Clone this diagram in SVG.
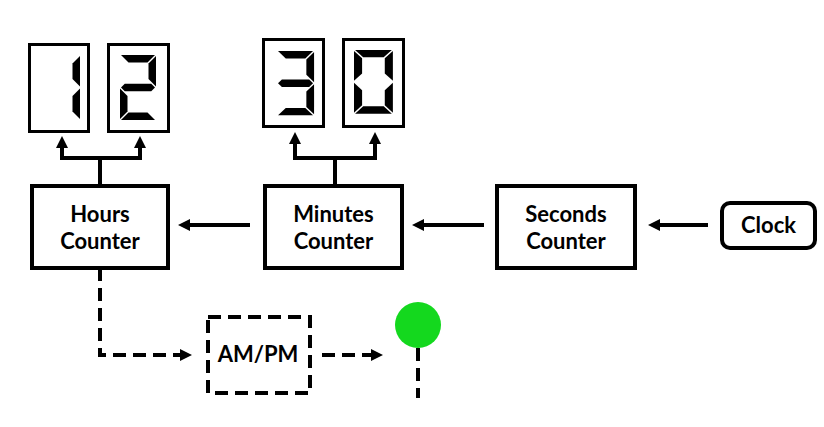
<svg xmlns="http://www.w3.org/2000/svg" width="824" height="427" viewBox="0 0 824 427">
<defs>
<style>
.box{fill:#fff;stroke:#000;stroke-width:4}
.dbox{fill:#fff;stroke:#000;stroke-width:3}
.seg{fill:#000}
.ln{fill:none;stroke:#000;stroke-width:4}
.dash{fill:none;stroke:#000;stroke-width:4;stroke-dasharray:13 7}
.lbl{font-family:Lato,"Open Sans","DejaVu Sans",sans-serif;font-weight:bold;font-size:22px;fill:#000;text-anchor:middle}
</style>
<marker id="ah" viewBox="0 0 12 12" refX="2" refY="6" markerWidth="12" markerHeight="12" markerUnits="userSpaceOnUse" orient="auto">
<path d="M0,0 L12,6 L0,12 z" fill="#000"/>
</marker>
<polygon id="sa" points="1,0 35,0 27.5,7.5 8.5,7.5"/>
<polygon id="sd" points="1,65 35,65 27.5,57.5 8.5,57.5"/>
<polygon id="sg" points="1,32.5 4.75,28.75 31.25,28.75 35,32.5 31.25,36.25 4.75,36.25"/>
<polygon id="sb" points="36,1 36,31.5 28.5,24 28.5,8.5"/>
<polygon id="sc" points="36,33.5 36,64 28.5,56.5 28.5,41"/>
<polygon id="se" points="0,33.5 0,64 7.5,56.5 7.5,41"/>
<polygon id="sf" points="0,1 0,31.5 7.5,24 7.5,8.5"/>
</defs>

<g id="digit-1">
<rect class="dbox" x="29.5" y="44.5" width="59" height="87"/>
<g class="seg" transform="translate(44,55)"><use href="#sb"/><use href="#sc"/></g>
</g>
<g id="digit-2">
<rect class="dbox" x="108.5" y="44.5" width="60" height="87"/>
<g class="seg" transform="translate(120,55)"><use href="#sa"/><use href="#sb"/><use href="#sg"/><use href="#se"/><use href="#sd"/></g>
</g>
<g id="digit-3">
<rect class="dbox" x="263.5" y="39.5" width="60" height="87"/>
<g class="seg" transform="translate(277,51) scale(1.03,0.99)"><use href="#sa"/><use href="#sb"/><use href="#sg"/><use href="#sc"/><use href="#sd"/></g>
</g>
<g id="digit-0">
<rect class="dbox" x="343.5" y="39.5" width="60" height="87"/>
<g class="seg" transform="translate(354,50) scale(1.08,0.98)"><use href="#sa"/><use href="#sb"/><use href="#sc"/><use href="#sd"/><use href="#se"/><use href="#sf"/></g>
</g>

<g id="hours">
<rect class="box" x="32" y="186" width="136" height="82"/>
<text class="lbl" x="100" y="222">Hours</text>
<text class="lbl" x="100" y="249">Counter</text>
</g>
<g id="minutes">
<rect class="box" x="265" y="186" width="137" height="82"/>
<text class="lbl" x="333.5" y="222">Minutes</text>
<text class="lbl" x="333.5" y="249">Counter</text>
</g>
<g id="seconds">
<rect class="box" x="497" y="186" width="138" height="82"/>
<text class="lbl" x="566" y="222">Seconds</text>
<text class="lbl" x="566" y="249">Counter</text>
</g>
<g id="clock">
<rect class="box" x="722" y="203" width="93" height="45" rx="8"/>
<text class="lbl" x="768.5" y="233">Clock</text>
</g>
<g id="ampm">
<rect class="dash" x="208" y="317" width="102" height="76"/>
<text class="lbl" x="258" y="362">AM/PM</text>
</g>
<g id="led">
<circle cx="418" cy="325" r="23" fill="#14d81e"/>
</g>

<g id="connectors">
<path class="ln" d="M100,186 V158 M62,158 H140"/>
<path class="ln" d="M62,160 V146" marker-end="url(#ah)"/>
<path class="ln" d="M140,160 V146" marker-end="url(#ah)"/>
<path class="ln" d="M335,186 V158 M295,158 H375"/>
<path class="ln" d="M295,160 V142" marker-end="url(#ah)"/>
<path class="ln" d="M375,160 V142" marker-end="url(#ah)"/>
<path class="ln" d="M250,225 H188" marker-end="url(#ah)"/>
<path class="ln" d="M484,225 H422" marker-end="url(#ah)"/>
<path class="ln" d="M708,225 H658" marker-end="url(#ah)"/>
<path class="dash" d="M100,268 V355 H182" marker-end="url(#ah)"/>
<path class="dash" d="M322,355 H373" marker-end="url(#ah)"/>
<path class="dash" d="M418,348 V398"/>
</g>
</svg>
